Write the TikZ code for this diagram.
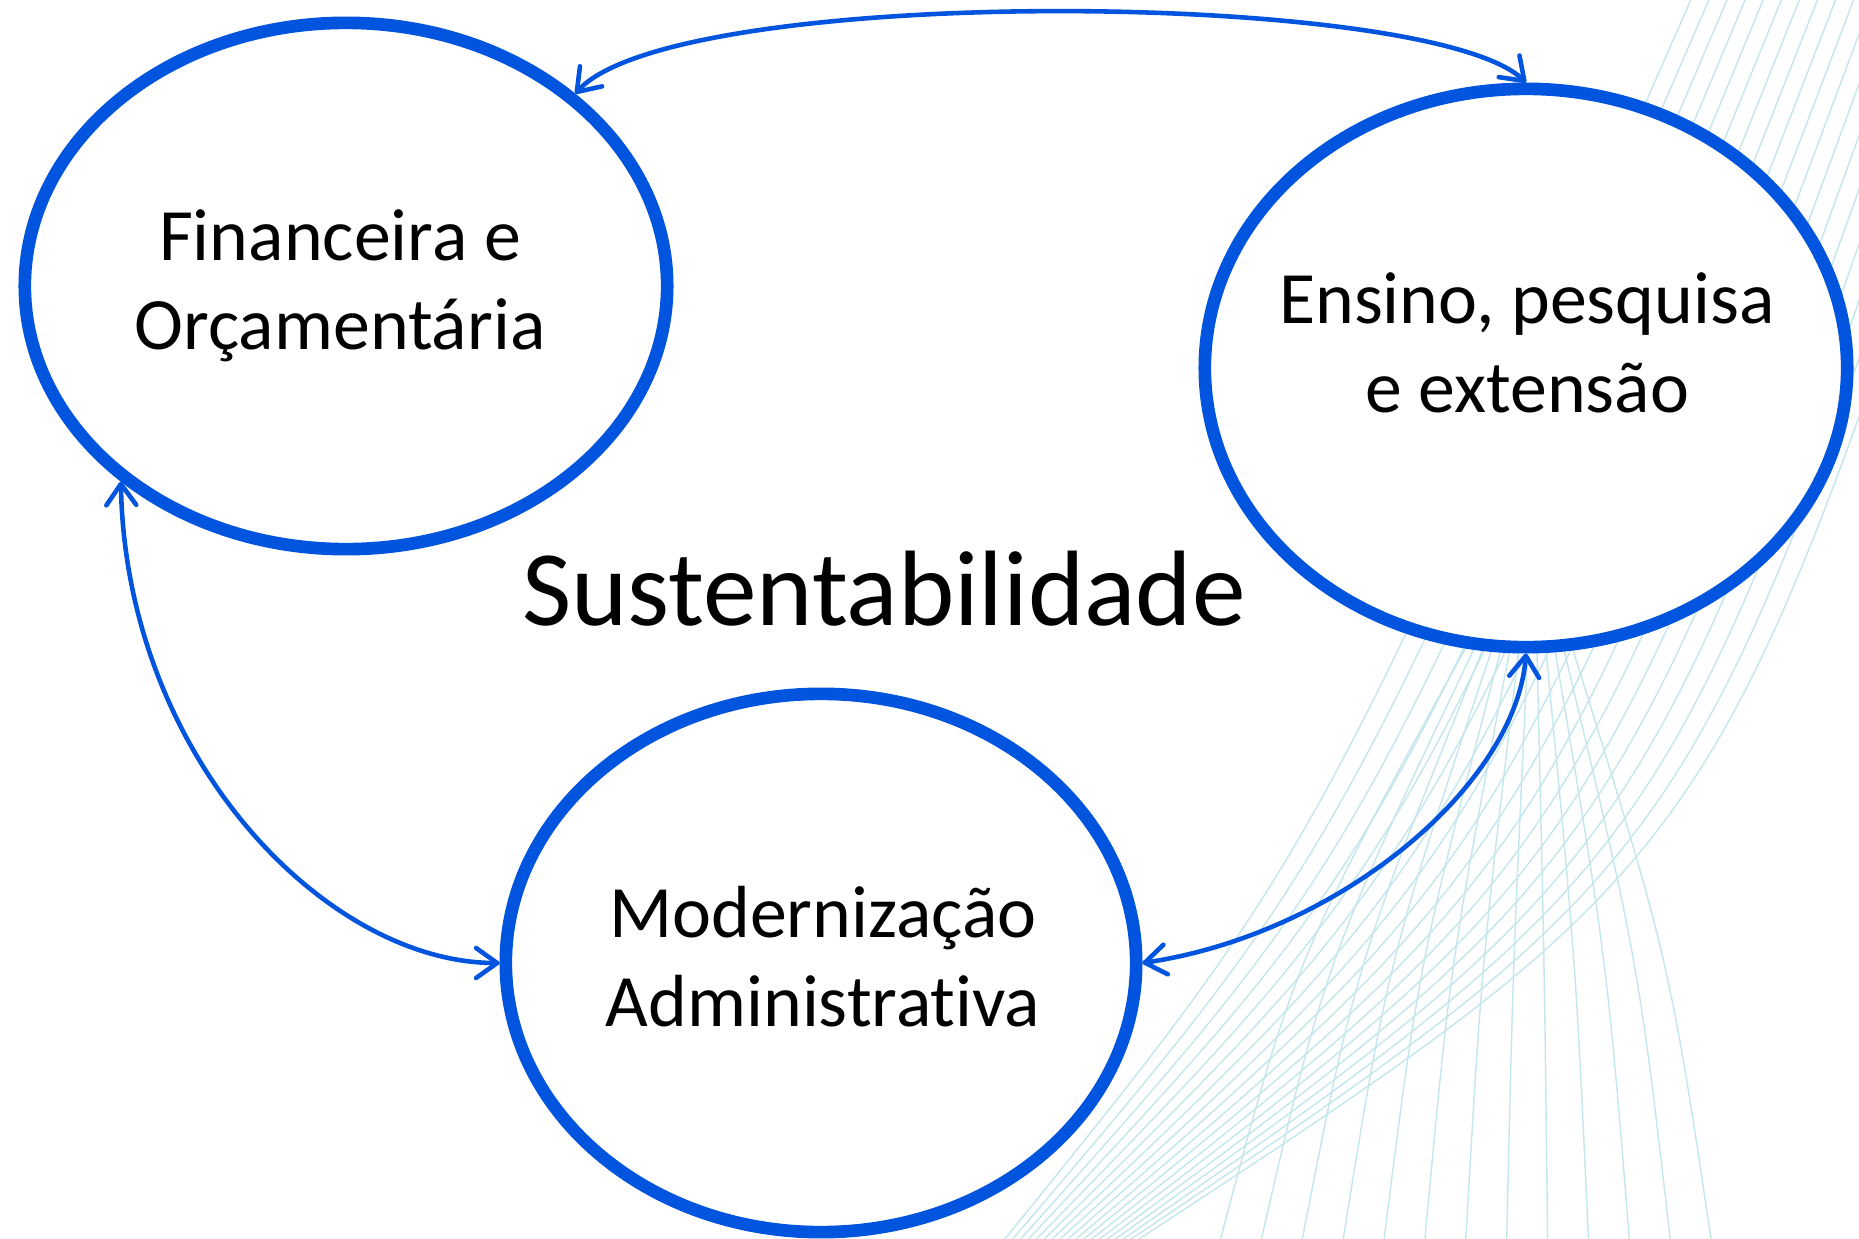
\documentclass[tikz,border=0pt]{standalone}
\usepackage{fontspec}
\setmainfont[Ligatures=NoCommon]{Carlito}
\usetikzlibrary{shapes.geometric,arrows.meta}
\definecolor{cblue}{RGB}{0,84,221}
\definecolor{bgl}{RGB}{196,230,237}
\begin{document}
\begin{tikzpicture}[x=0.01cm,y=-0.01cm,
  oval/.style={ellipse,draw=cblue,line width=3.6pt,fill=white,inner sep=0pt},
  lbl/.style={align=center,font=\fontsize{21}{25.3}\selectfont,inner sep=0pt},
  link/.style={draw=cblue,line width=1.3pt,arrows={Straight Barb[length=6pt,width=8.5pt,round]-Straight Barb[length=6pt,width=8.5pt,round]}},
  bgline/.style={draw=bgl,line width=0.4pt}]
\fill[white] (0,0) rectangle (1859,1239);
\useasboundingbox (0,0) rectangle (1859,1239);
\begin{scope}
\clip (0,0) rectangle (1859,1239);
\foreach \k in {0,...,17}{
  \pgfmathsetmacro\bgF{\k/17}
  \pgfmathsetmacro\bgB{1000+130*\bgF}
  \pgfmathsetmacro\bgM{1321+359*\bgF}
  \pgfmathsetmacro\bgT{1693+307*\bgF}
  \pgfmathsetmacro\bgC{(\bgM-0.125*(\bgB+\bgT))/0.75}
  \draw[bgline] (\bgB,1245) .. controls (\bgC,859.2) .. (\bgT,-5);
}
\foreach \k in {0,...,12}{
  \pgfmathsetmacro\bgF{\k/12}
  \pgfmathsetmacro\bgU{1470+100*\bgF}
  \pgfmathsetmacro\bgL{1219+493*\bgF}
  \pgfmathsetmacro\bgC{\bgL+0.3*(\bgU-\bgL)}
  \draw[bgline] (\bgU,640) .. controls (\bgC,960) .. (\bgL,1245);
}
\end{scope}
\node[oval,minimum width=6.42cm,minimum height=5.26cm] (fin) at (346,286) {};
\node[oval,minimum width=6.42cm,minimum height=5.58cm] (ens) at (1526,368) {};
\node[oval,minimum width=6.30cm,minimum height=5.38cm] (mod) at (821,963) {};
\node[lbl] (tfin) at (340,286) {Financeira e\\Orçamentária};
\node[lbl] (tens) at (1527,343) {Ensino, pesquisa\\e extensão};
\node[lbl] (tmod) at (823,957) {Modernização\\Administrativa};
\node[font=\fontsize{30.5}{37}\selectfont,anchor=base,inner sep=0pt] (sus) at (884,625) {Sustentabilidade};
\draw[link] (fin.40) .. controls +(100,-110) and +(-97,-93) .. (ens.north);
\draw[link] (fin.221) .. controls +(5,276) and +(-173,0) .. (mod.west);
\draw[link] (mod.east) .. controls +(200,-30) and +(-10,130) .. (ens.south);
\end{tikzpicture}
\end{document}
